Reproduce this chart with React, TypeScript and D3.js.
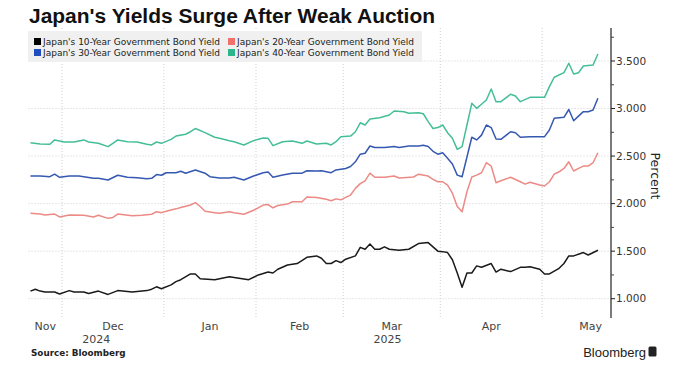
import React, { useEffect, useRef } from 'react'
import * as d3 from 'd3'

// trading days counted from Nov 21, 2024 (index 0) to May 20, 2025 (index 117)
const months = ['Nov', 'Dec', 'Jan', 'Feb', 'Mar', 'Apr', 'May']
const monthDays = [7, 21, 19, 18, 20, 21, 20] // Nov visible part, May full month
const years = [
  { label: '2024', from: 0, to: 2 },
  { label: '2025', from: 2, to: 7 },
]
const yTicks = [1.0, 1.5, 2.0, 2.5, 3.0, 3.5]
const yMinor = [1.25, 1.75, 2.25, 2.75, 3.25, 3.75]

const jgb10 = [
  [0, 1.08], [1, 1.1], [2, 1.08], [3, 1.07], [5, 1.07], [6, 1.05], [8, 1.085], [9, 1.07],
  [11, 1.07], [12, 1.055], [14, 1.08], [16, 1.045], [18, 1.085], [21, 1.07], [24, 1.085],
  [25, 1.1], [26, 1.125], [27, 1.105], [29, 1.145], [30, 1.18], [31, 1.2], [33, 1.26],
  [34, 1.26], [35, 1.21], [38, 1.2], [41, 1.23], [45, 1.2], [47, 1.25], [49, 1.28],
  [50, 1.27], [51, 1.31], [53, 1.355], [55, 1.37], [57, 1.435], [59, 1.45], [60, 1.425],
  [61, 1.37], [62, 1.37], [63, 1.4], [64, 1.38], [65, 1.415], [67, 1.45], [68, 1.54],
  [69, 1.52], [70, 1.575], [71, 1.52], [72, 1.52], [73, 1.545], [74, 1.52], [76, 1.51],
  [78, 1.52], [80, 1.58], [82, 1.59], [84, 1.5], [85, 1.495], [86, 1.485], [87, 1.41],
  [88, 1.27], [89, 1.12], [90, 1.27], [91, 1.27], [92, 1.345], [93, 1.33], [95, 1.37],
  [96, 1.28], [97, 1.31], [99, 1.285], [101, 1.33], [102, 1.33], [103, 1.335], [105, 1.31],
  [106, 1.26], [107, 1.26], [109, 1.32], [110, 1.37], [111, 1.45], [112, 1.45], [114, 1.485],
  [115, 1.46], [117, 1.51],
]

const jgb20 = [
  [0, 1.898], [2, 1.89], [3, 1.88], [5, 1.89], [6, 1.86], [8, 1.88], [11, 1.877], [13, 1.86],
  [14, 1.877], [16, 1.845], [17, 1.855], [18, 1.89], [21, 1.873], [23, 1.877], [25, 1.888],
  [26, 1.915], [27, 1.905], [28, 1.92], [30, 1.945], [31, 1.96], [33, 1.985], [34, 2.01],
  [35, 1.97], [36, 1.92], [38, 1.905], [39, 1.898], [41, 1.915], [42, 1.905], [44, 1.888],
  [46, 1.93], [48, 1.985], [49, 1.99], [50, 1.955], [51, 1.98], [53, 1.995], [54, 2.02],
  [56, 2.02], [57, 2.07], [59, 2.065], [61, 2.045], [62, 2.03], [63, 2.05], [64, 2.04],
  [65, 2.065], [66, 2.09], [67, 2.16], [68, 2.21], [69, 2.24], [70, 2.32], [71, 2.277],
  [73, 2.277], [75, 2.29], [76, 2.27], [79, 2.28], [80, 2.31], [82, 2.29], [83, 2.255],
  [84, 2.23], [85, 2.23], [86, 2.195], [87, 2.11], [88, 1.97], [89, 1.915], [90, 2.125],
  [91, 2.28], [92, 2.3], [93, 2.325], [94, 2.43], [95, 2.395], [96, 2.22], [97, 2.24],
  [99, 2.277], [101, 2.23], [102, 2.205], [103, 2.225], [105, 2.195], [106, 2.185],
  [107, 2.23], [108, 2.31], [109, 2.335], [110, 2.37], [111, 2.44], [112, 2.343], [113, 2.37],
  [114, 2.395], [115, 2.395], [116, 2.43], [117, 2.535],
]

const jgb30 = [
  [0, 2.29], [2, 2.29], [4, 2.283], [5, 2.31], [6, 2.277], [8, 2.29], [10, 2.29], [13, 2.266],
  [14, 2.266], [16, 2.248], [18, 2.298], [20, 2.277], [22, 2.273], [24, 2.262], [25, 2.266],
  [26, 2.305], [27, 2.298], [28, 2.325], [30, 2.325], [31, 2.34], [32, 2.32], [34, 2.354],
  [36, 2.32], [37, 2.283], [39, 2.27], [41, 2.27], [42, 2.277], [44, 2.248], [46, 2.29],
  [48, 2.325], [49, 2.333], [50, 2.277], [52, 2.3], [54, 2.32], [56, 2.32], [57, 2.346],
  [59, 2.343], [60, 2.346], [62, 2.325], [63, 2.354], [65, 2.37], [66, 2.39], [67, 2.44],
  [68, 2.52], [69, 2.53], [70, 2.606], [71, 2.59], [73, 2.59], [75, 2.6], [76, 2.59],
  [78, 2.606], [80, 2.606], [81, 2.613], [82, 2.6], [83, 2.55], [84, 2.52], [85, 2.535],
  [86, 2.477], [87, 2.417], [88, 2.3], [89, 2.283], [90, 2.49], [91, 2.698], [92, 2.67],
  [93, 2.72], [94, 2.827], [95, 2.8], [96, 2.68], [97, 2.676], [99, 2.756], [100, 2.746],
  [101, 2.698], [103, 2.704], [105, 2.704], [106, 2.704], [107, 2.774], [108, 2.897],
  [110, 2.908], [111, 2.99], [112, 2.872], [113, 2.92], [114, 2.967], [115, 2.967],
  [116, 2.985], [117, 3.108],
]

const jgb40 = [
  [0, 2.64], [2, 2.627], [4, 2.624], [5, 2.67], [7, 2.648], [9, 2.648], [11, 2.67], [12, 2.648],
  [14, 2.634], [16, 2.599], [17, 2.634], [18, 2.67], [20, 2.651], [22, 2.648], [24, 2.624],
  [25, 2.617], [26, 2.648], [27, 2.634], [29, 2.676], [30, 2.71], [32, 2.73], [33, 2.756],
  [34, 2.79], [36, 2.746], [38, 2.698], [39, 2.687], [41, 2.662], [42, 2.651], [44, 2.617],
  [46, 2.662], [47, 2.676], [48, 2.69], [49, 2.687], [50, 2.61], [52, 2.651], [54, 2.659],
  [56, 2.634], [57, 2.659], [59, 2.627], [61, 2.634], [62, 2.617], [63, 2.651], [64, 2.704],
  [66, 2.71], [67, 2.756], [68, 2.85], [69, 2.827], [70, 2.89], [72, 2.904], [74, 2.932],
  [75, 2.974], [77, 2.967], [78, 2.95], [80, 2.956], [81, 2.945], [82, 2.862], [83, 2.79],
  [84, 2.8], [85, 2.827], [86, 2.746], [87, 2.687], [88, 2.571], [89, 2.6], [90, 2.827],
  [91, 3.055], [92, 3.002], [93, 3.045], [94, 3.09], [95, 3.205], [96, 3.072], [97, 3.072],
  [99, 3.15], [100, 3.132], [101, 3.072], [103, 3.118], [105, 3.118], [106, 3.118],
  [107, 3.23], [108, 3.329], [110, 3.377], [111, 3.476], [112, 3.363], [113, 3.377],
  [114, 3.447], [116, 3.458], [117, 3.574],
]

const series = [
  { name: "Japan's 10-Year Government Bond Yield", data: jgb10, color: '#1a1a1a', key: '#000000' },
  { name: "Japan's 20-Year Government Bond Yield", data: jgb20, color: '#ec8a86', key: '#f0716c' },
  { name: "Japan's 30-Year Government Bond Yield", data: jgb30, color: '#3558b0', key: '#1f4fbf' },
  { name: "Japan's 40-Year Government Bond Yield", data: jgb40, color: '#44be98', key: '#2ab58a' },
]

const W = 680, H = 387
const left = 28.5, right = 611, top = 28, bottom = 318

export default function App() {
  const ref = useRef<SVGSVGElement>(null)

  useEffect(() => {
    const svg = d3.select(ref.current)
    svg.selectAll('*').remove()

    const x = d3.scaleLinear().domain([-0.4, 119.7]).range([left, right])
    const y = d3.scaleLinear().domain([0.797, 3.847]).range([bottom, top])

    // month boundaries (index of first day minus half a day)
    const starts = [0]
    monthDays.forEach((d, i) => starts.push(starts[i] + d))
    const bounds = starts.map(s => s - 0.5)
    bounds[0] = -0.4

    const grid = svg.append('g')
    grid.selectAll('line.h')
      .data(yTicks)
      .join('line')
      .attr('x1', left).attr('x2', right)
      .attr('y1', d => y(d)).attr('y2', d => y(d))
      .attr('stroke', '#cfcfcf').attr('stroke-dasharray', '1,2')
    grid.selectAll('line.v')
      .data(bounds.slice(1, 7))
      .join('line')
      .attr('x1', d => x(d)).attr('x2', d => x(d))
      .attr('y1', top).attr('y2', bottom)
      .attr('stroke', '#cfcfcf').attr('stroke-dasharray', '1,2')

    // legend
    const lg = svg.append('g')
    lg.append('rect')
      .attr('x', 28).attr('y', 31).attr('width', 394).attr('height', 31)
      .attr('fill', '#f0f0f0')
    const pos = [[34, 41.5], [228, 41.5], [34, 52.5], [228, 52.5]]
    series.forEach((s, k) => {
      const [px, py] = pos[k]
      lg.append('rect')
        .attr('x', px).attr('y', py - 3.5).attr('width', 7).attr('height', 7)
        .attr('fill', s.key)
      lg.append('text')
        .attr('x', px + 9).attr('y', py + 3.2)
        .attr('font-family', 'DejaVu Sans').attr('font-size', 9)
        .attr('fill', '#222')
        .text(s.name)
    })

    // lines
    const line = d3.line<number[]>()
      .x(d => x(d[0]))
      .y(d => y(d[1]))
    svg.append('g')
      .selectAll('path')
      .data(series)
      .join('path')
      .attr('d', d => line(d.data))
      .attr('fill', 'none')
      .attr('stroke', d => d.color)
      .attr('stroke-width', 1.5)
      .attr('stroke-linejoin', 'round')

    // right axis
    const ax = svg.append('g')
    ax.append('line')
      .attr('x1', right).attr('x2', right).attr('y1', top).attr('y2', bottom)
      .attr('stroke', '#222').attr('stroke-width', 1.2)
    ax.selectAll('line.maj')
      .data(yTicks)
      .join('line')
      .attr('x1', right).attr('x2', right + 4)
      .attr('y1', d => y(d)).attr('y2', d => y(d))
      .attr('stroke', '#222')
    ax.selectAll('line.min')
      .data(yMinor)
      .enter()
      .append('line')
      .attr('x1', right).attr('x2', right + 3)
      .attr('y1', d => y(d)).attr('y2', d => y(d))
      .attr('stroke', '#444')
    ax.selectAll('text')
      .data(yTicks)
      .join('text')
      .attr('x', right + 5).attr('y', d => y(d) + 3.8)
      .attr('font-family', 'DejaVu Sans').attr('font-size', 10.5)
      .attr('fill', '#333')
      .text(d => d3.format('.3f')(d))
    svg.append('text')
      .attr('transform', `translate(651,176) rotate(90)`)
      .attr('text-anchor', 'middle')
      .attr('font-family', 'DejaVu Sans').attr('font-size', 12.5)
      .attr('fill', '#222')
      .text('Percent')

    // month and year labels
    const xl = svg.append('g')
      .attr('font-family', 'DejaVu Sans').attr('font-size', 11)
      .attr('fill', '#444').attr('text-anchor', 'middle')
    months.forEach((m, i) => {
      const a = bounds[i], b = i === 6 ? starts[7] - 0.5 : bounds[i + 1]
      xl.append('text').attr('x', x((a + b) / 2)).attr('y', 329.5).text(m)
    })
    years.forEach(yr => {
      const a = bounds[yr.from]
      const b = yr.to === 7 ? 119.7 : bounds[yr.to]
      xl.append('text').attr('x', x((a + b) / 2)).attr('y', 343).text(yr.label)
    })

    // title and footer
    svg.append('text')
      .attr('x', 29).attr('y', 22.5)
      .attr('font-family', 'Liberation Sans').attr('font-weight', 'bold').attr('font-size', 20)
      .attr('textLength', 406).attr('lengthAdjust', 'spacingAndGlyphs')
      .attr('fill', '#111')
      .text("Japan's Yields Surge After Weak Auction")
    svg.append('text')
      .attr('x', 31).attr('y', 356)
      .attr('font-family', 'DejaVu Sans').attr('font-weight', 'bold').attr('font-size', 8.8)
      .attr('fill', '#222')
      .text('Source: Bloomberg')
    svg.append('text')
      .attr('x', 646).attr('y', 357).attr('text-anchor', 'end')
      .attr('font-family', 'Liberation Sans').attr('font-size', 13)
      .attr('fill', '#222')
      .text('Bloomberg')
    svg.append('rect')
      .attr('x', 648.5).attr('y', 346.5).attr('width', 8).attr('height', 10).attr('rx', 1.5)
      .attr('fill', '#222')
  }, [])

  return (
    <svg ref={ref} width={W} height={H}
      style={{ position: 'absolute', left: 0, top: 0, background: '#fff' }} />
  )
}
